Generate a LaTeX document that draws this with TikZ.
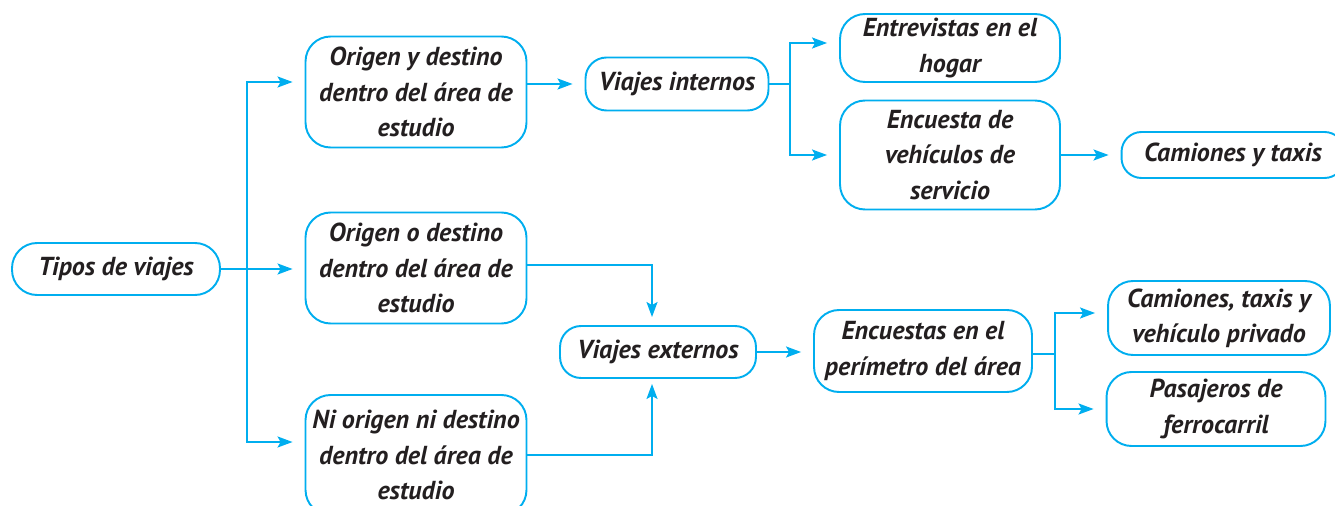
\documentclass[tikz,border=0pt]{standalone}
\usepackage{fontspec}
\setmainfont{PT Sans}
\usetikzlibrary{arrows.meta}
\definecolor{cian}{RGB}{0,174,239}
\definecolor{tinta}{RGB}{35,31,32}
\tikzset{
  caja/.style={draw=cian, line width=1.1pt, rounded corners=0.5cm, align=center,
    inner sep=0pt, text=tinta, font=\fontsize{14.8}{20}\selectfont\bfseries\itshape},
  linea/.style={draw=cian, line width=1.1pt},
  flecha/.style={linea, -{Stealth[length=0.3cm, width=0.22cm, inset=0.06cm]}, shorten >=0.24cm}
}
\begin{document}
\begin{tikzpicture}[x=0.02cm, y=-0.02cm]
  \useasboundingbox (0,0) rectangle (1335,506);
  % cajas
  \node[caja, minimum width=4.16cm, minimum height=1.04cm] (tipos) at (116,269) {Tipos de viajes};
  \node[caja, minimum width=4.42cm, minimum height=2.22cm] (origenA) at (416,92) {Origen y destino\\dentro del área de\\estudio};
  \node[caja, minimum width=4.42cm, minimum height=2.22cm] (origenB) at (416,268) {Origen o destino\\dentro del área de\\estudio};
  \node[caja, minimum width=4.42cm, minimum height=2.4cm] (niorigen) at (416,455) {Ni origen ni destino\\dentro del área de\\estudio};
  \node[caja, minimum width=3.66cm, minimum height=1.06cm, rounded corners=0.42cm] (internos) at (677,84) {Viajes internos};
  \node[caja, minimum width=3.92cm, minimum height=1.04cm, rounded corners=0.42cm] (externos) at (658,352) {Viajes externos};
  \node[caja, minimum width=4.4cm, minimum height=1.36cm] (entrevistas) at (950,48) {Entrevistas en el\\hogar};
  \node[caja, minimum width=4.4cm, minimum height=2.18cm] (encuesta) at (950,155) {Encuesta de\\vehículos de\\servicio};
  \node[caja, minimum width=4.46cm, minimum height=0.92cm, rounded corners=0.4cm] (camiones) at (1233,155) {Camiones y taxis};
  \node[caja, minimum width=4.36cm, minimum height=1.64cm] (perimetro) at (923,351) {Encuestas en el\\perímetro del área};
  \node[caja, minimum width=4.44cm, minimum height=1.48cm] (privado) at (1219,318) {Camiones, taxis y\\vehículo privado};
  \node[caja, minimum width=4.38cm, minimum height=1.48cm] (pasajeros) at (1216,409) {Pasajeros de\\ferrocarril};
  % puntos de ramificacion
  \coordinate (rtipos) at (247,269);
  \coordinate (rinternos) at (790,84);
  \coordinate (rperimetro) at (1055,354);
  % conectores
  \draw[linea] (tipos.east) -- (rtipos);
  \draw[flecha] (rtipos) |- ([yshift=0.2cm]origenA.west);
  \draw[flecha] (rtipos) -- (origenB.west |- rtipos);
  \draw[flecha] (rtipos) |- ([yshift=0.26cm]niorigen.west);
  \draw[flecha] (origenA.east |- internos.west) -- (internos.west);
  \draw[linea] (internos.east) -- (rinternos);
  \draw[flecha] (rinternos) |- ([yshift=0.1cm]entrevistas.west);
  \draw[flecha] (rinternos) |- (encuesta.west);
  \draw[flecha] (encuesta.east) -- (camiones.west);
  \draw[flecha, shorten >=0.16cm] ([yshift=0.06cm]origenB.east) -| ([xshift=-0.12cm]externos.north);
  \draw[flecha, shorten >=0.1cm] (niorigen.east) -| ([xshift=-0.12cm]externos.south);
  \draw[flecha] (externos.east) -- (perimetro.west |- externos.east);
  \draw[linea] ([yshift=-0.06cm]perimetro.east) -- (rperimetro);
  \draw[flecha] (rperimetro) |- ([yshift=0.1cm]privado.west);
  \draw[flecha] (rperimetro) |- (pasajeros.west);
\end{tikzpicture}
\end{document}
